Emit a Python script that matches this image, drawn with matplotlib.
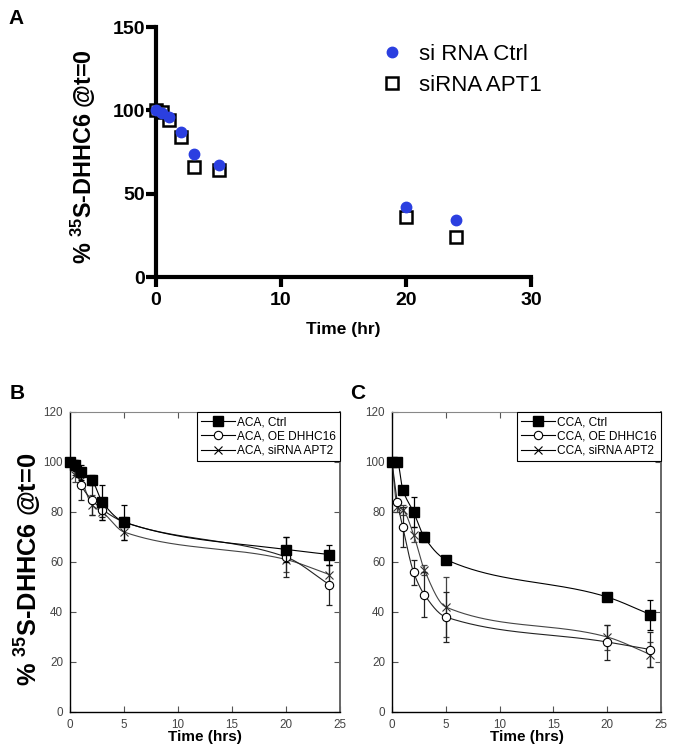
import numpy as np
import matplotlib
matplotlib.use('Agg')
import matplotlib.pyplot as plt
from matplotlib.lines import Line2D

plt.rcParams['font.family'] = ['Liberation Sans', 'DejaVu Sans']
plt.rcParams['mathtext.fontset'] = 'custom'
plt.rcParams['mathtext.rm'] = 'Liberation Sans'
plt.rcParams['mathtext.bf'] = 'Liberation Sans:bold'

# ---------------- Data ----------------
# Panel A
a_time = [0, 0.5, 1, 2, 3, 5, 20, 24]
a_ctrl = [100, 98.5, 96, 87, 74, 67, 42, 34]
a_apt1 = [100, 99, 94, 84, 66, 64, 36, 24]
a_labels = ['si RNA Ctrl', 'siRNA APT1']

# Panels B and C
bc_time = [0, 0.5, 1, 2, 3, 5, 20, 24]

b_ctrl = [100, 99, 96, 93, 84, 76, 65, 63]
b_ctrl_err = [0, 2, 3, 2, 7, 7, 5, 4]
b_oe = [100, 98, 91, 85, 81, 76, 62, 51]
b_oe_err = [0, 3, 6, 6, 3, 2, 8, 8]
b_si = [100, 95, 93, 83, 80, 72, 61, 55]
b_si_err = [0, 3, 2, 4, 3, 3, 5, 4]
b_labels = ['ACA, Ctrl', 'ACA, OE DHHC16', 'ACA, siRNA APT2']

c_ctrl = [100, 100, 89, 80, 70, 61, 46, 39]
c_ctrl_err = [0, 1, 1, 6, 2, 1, 1, 6]
c_oe = [100, 84, 74, 56, 47, 38, 28, 25]
c_oe_err = [0, 1, 8, 5, 9, 10, 7, 7]
c_si = [100, 82, 81, 71, 57, 42, 30, 23]
c_si_err = [0, 2, 2, 3, 2, 12, 5, 5]
c_labels = ['CCA, Ctrl', 'CCA, OE DHHC16', 'CCA, siRNA APT2']

ylabel = r'% $\mathbf{^{35}}$S-DHHC6 @t=0'


def pchip(x, y, n=300):
    x = np.asarray(x, float)
    y = np.asarray(y, float)
    h = np.diff(x)
    d = np.diff(y) / h
    m = np.zeros_like(y)
    for k in range(1, len(x) - 1):
        if d[k - 1] * d[k] > 0:
            w1 = 2 * h[k] + h[k - 1]
            w2 = h[k] + 2 * h[k - 1]
            m[k] = (w1 + w2) / (w1 / d[k - 1] + w2 / d[k])
    m[0] = d[0]
    m[-1] = d[-1]
    xs = np.linspace(x[0], x[-1], n)
    idx = np.clip(np.searchsorted(x, xs) - 1, 0, len(h) - 1)
    t = (xs - x[idx]) / h[idx]
    h00 = 2 * t**3 - 3 * t**2 + 1
    h10 = t**3 - 2 * t**2 + t
    h01 = -2 * t**3 + 3 * t**2
    h11 = t**3 - t**2
    ys = h00 * y[idx] + h10 * h[idx] * m[idx] + h01 * y[idx + 1] + h11 * h[idx] * m[idx + 1]
    return xs, ys


W, H = 685, 754
fig = plt.figure(figsize=(W / 100, H / 100), dpi=100)


def ax_px(left, top, right, bottom):
    return fig.add_axes([left / W, 1 - bottom / H, (right - left) / W, (bottom - top) / H])


# ---------------- Panel A ----------------
axA = ax_px(156, 27, 531, 277)
blue = '#2b3fe0'
axA.plot(a_time, a_ctrl, 'o', color=blue, ms=7.5, mec=blue, zorder=4, clip_on=False,
         label=a_labels[0])
axA.plot(a_time, a_apt1, 's', mfc='white', mec='black', mew=1.8, ms=8.5, zorder=3,
         clip_on=False, label=a_labels[1])
axA.set_xlim(0, 30)
axA.set_ylim(0, 150)
axA.set_xticks([0, 10, 20, 30])
axA.set_yticks([0, 50, 100, 150])
for s in ['top', 'right']:
    axA.spines[s].set_visible(False)
for s in ['left', 'bottom']:
    axA.spines[s].set_linewidth(3)
axA.tick_params(width=3, length=7, labelsize=14, pad=1)
axA.tick_params(axis='x', pad=4)
for lab in axA.get_xticklabels() + axA.get_yticklabels():
    lab.set_fontweight('bold')
axA.set_xlabel('Time (hr)', fontsize=12.5, fontweight='bold', labelpad=9)
fig.text(83 / W, 1 - 157 / H, ylabel, rotation=90, ha='center', va='center',
         fontsize=16.8, fontweight='bold')
axA.legend(loc='upper left', bbox_to_anchor=(368 / W, 1 - 33 / H),
           bbox_transform=fig.transFigure, frameon=False, fontsize=16,
           handletextpad=0.6, labelspacing=0.45, handlelength=1.2, borderpad=0)
fig.text(8 / W, 1 - 19 / H, 'A', fontsize=15, fontweight='bold', va='center')


# ---------------- Panels B, C ----------------
def panel(ax, ctrl, ce, oe, oe_err, si, se, labels):
    for y, e, style, col, z in [
        (si, se, dict(marker='x', ms=6, mfc='none', mec='#333333', mew=0.8), '#444444', 2),
        (oe, oe_err, dict(marker='o', ms=6, mfc='white', mec='black', mew=0.8), '#222222', 3),
        (ctrl, ce, dict(marker='s', ms=6.5, mfc='black', mec='black'), 'black', 4),
    ]:
        xs, ys = pchip(bc_time, y)
        ax.plot(xs, ys, color=col, lw=0.8, zorder=z)
        ax.errorbar(bc_time, y, yerr=e, fmt='none', ecolor=col, elinewidth=0.9,
                    capsize=2, capthick=0.9, zorder=z)
        ax.plot(bc_time, y, ls='none', zorder=z + 0.5, clip_on=False, **style)
    handles = [
        Line2D([], [], color='black', lw=0.8, marker='s', ms=6.5, mfc='black', mec='black'),
        Line2D([], [], color='black', lw=0.8, marker='o', ms=6, mfc='white', mec='black', mew=0.8),
        Line2D([], [], color='black', lw=0.8, marker='x', ms=6, mec='black', mew=0.8),
    ]
    leg = ax.legend(handles, labels, loc='upper right', bbox_to_anchor=(1.0, 1.0),
                    borderaxespad=0, fancybox=False, edgecolor='black', fontsize=8.6,
                    handlelength=2.8, handletextpad=0.2, labelspacing=0.2, borderpad=0.35,
                    framealpha=1)
    leg.get_frame().set_linewidth(0.8)
    ax.set_xlim(0, 25)
    ax.set_ylim(0, 120)
    ax.set_xticks([0, 5, 10, 15, 20, 25])
    ax.set_yticks([0, 20, 40, 60, 80, 100, 120])
    ax.tick_params(direction='in', top=True, right=True, length=4, width=0.8,
                   labelsize=8.4, labelcolor='#444444', color='#555555', pad=5)
    ax.spines['left'].set_color('black')
    ax.spines['bottom'].set_color('black')
    ax.spines['left'].set_linewidth(1.0)
    ax.spines['bottom'].set_linewidth(1.0)
    ax.spines['top'].set_color('#888888')
    ax.spines['right'].set_color('#666666')
    ax.spines['right'].set_linewidth(1.4)
    ax.set_xlabel('Time (hrs)', fontsize=11, fontweight='bold', labelpad=-1)


axB = ax_px(70, 412, 340, 712)
panel(axB, b_ctrl, b_ctrl_err, b_oe, b_oe_err, b_si, b_si_err, b_labels)
axC = ax_px(392, 412, 661, 712)
panel(axC, c_ctrl, c_ctrl_err, c_oe, c_oe_err, c_si, c_si_err, c_labels)

fig.text(28 / W, 1 - 569 / H, ylabel, rotation=90, ha='center', va='center',
         fontsize=18.3, fontweight='bold')
fig.text(10 / W, 1 - 393 / H, 'B', fontsize=15, fontweight='bold', va='center')
fig.text(350 / W, 1 - 393 / H, 'C', fontsize=15, fontweight='bold', va='center')

fig.savefig('out.png', dpi=100, facecolor='white')
